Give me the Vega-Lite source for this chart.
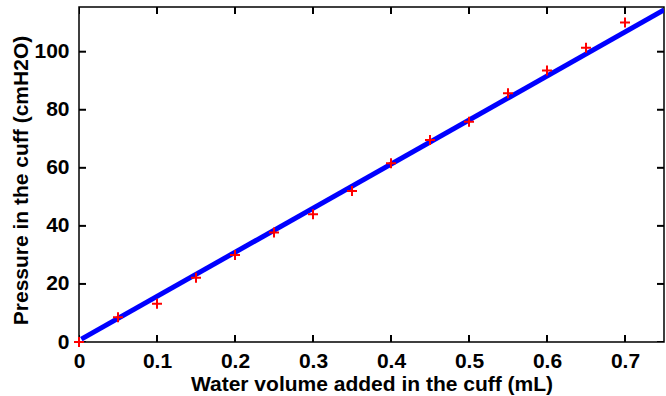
{
  "$schema": "https://vega.github.io/schema/vega-lite/v6.json",
  "width": 585,
  "height": 335,
  "autosize": {"type": "none"},
  "padding": {"left": 79, "top": 7, "right": 2, "bottom": 54},
  "background": "white",
  "config": {
    "view": {"stroke": "#000", "strokeWidth": 1.5},
    "font": "Liberation Sans",
    "axis": {
      "grid": false,
      "domain": false,
      "labelFont": "Liberation Sans",
      "labelFontWeight": "bold",
      "labelFontSize": 21,
      "labelColor": "#000",
      "titleFont": "Liberation Sans",
      "titleFontWeight": "bold",
      "titleFontSize": 21,
      "titleColor": "#000"
    }
  },
  "datasets": {
    "measured": [
      {"volume": 0.0, "pressure": 0.0},
      {"volume": 0.05, "pressure": 8.5},
      {"volume": 0.1, "pressure": 13.2},
      {"volume": 0.15, "pressure": 22.1},
      {"volume": 0.2, "pressure": 30.0},
      {"volume": 0.25, "pressure": 37.7},
      {"volume": 0.3, "pressure": 44.0},
      {"volume": 0.35, "pressure": 52.0},
      {"volume": 0.4, "pressure": 61.6},
      {"volume": 0.45, "pressure": 69.6},
      {"volume": 0.5, "pressure": 75.9},
      {"volume": 0.55, "pressure": 85.7},
      {"volume": 0.6, "pressure": 93.5},
      {"volume": 0.65, "pressure": 101.4},
      {"volume": 0.7, "pressure": 110.1}
    ],
    "fit": [
      {"volume": 0.003, "pressure": 1.0},
      {"volume": 0.75, "pressure": 114.4}
    ],
    "xticks": [
      {"volume": 0}, {"volume": 0.1}, {"volume": 0.2}, {"volume": 0.3},
      {"volume": 0.4}, {"volume": 0.5}, {"volume": 0.6}, {"volume": 0.7}
    ],
    "yticks": [
      {"pressure": 0}, {"pressure": 20}, {"pressure": 40},
      {"pressure": 60}, {"pressure": 80}, {"pressure": 100}
    ]
  },
  "layer": [
    {
      "data": {"name": "fit"},
      "mark": {"type": "line", "color": "#0000ff", "strokeWidth": 5, "clip": true},
      "encoding": {
        "x": {"field": "volume", "type": "quantitative", "scale": {"domain": [0, 0.75], "nice": false, "zero": false}, "axis": null},
        "y": {"field": "pressure", "type": "quantitative", "scale": {"domain": [0, 115.4], "nice": false, "zero": false}, "axis": null}
      }
    },
    {
      "data": {"name": "xticks"},
      "mark": {"type": "tick", "orient": "vertical", "color": "#000", "opacity": 1, "thickness": 2, "size": 14, "clip": true},
      "encoding": {
        "x": {"field": "volume", "type": "quantitative", "scale": {"domain": [0, 0.75], "nice": false, "zero": false}, "axis": null},
        "y": {"datum": 0, "type": "quantitative", "axis": null}
      }
    },
    {
      "data": {"name": "xticks"},
      "mark": {"type": "tick", "orient": "vertical", "color": "#000", "opacity": 1, "thickness": 2, "size": 14, "clip": true},
      "encoding": {
        "x": {"field": "volume", "type": "quantitative", "scale": {"domain": [0, 0.75], "nice": false, "zero": false}, "axis": null},
        "y": {"datum": 115.4, "type": "quantitative", "axis": null}
      }
    },
    {
      "data": {"name": "yticks"},
      "mark": {"type": "tick", "orient": "horizontal", "color": "#000", "opacity": 1, "thickness": 2, "size": 14, "clip": true},
      "encoding": {
        "y": {"field": "pressure", "type": "quantitative", "scale": {"domain": [0, 115.4], "nice": false, "zero": false}, "axis": null},
        "x": {"datum": 0, "type": "quantitative", "axis": null}
      }
    },
    {
      "data": {"name": "yticks"},
      "mark": {"type": "tick", "orient": "horizontal", "color": "#000", "opacity": 1, "thickness": 2, "size": 14, "clip": true},
      "encoding": {
        "y": {"field": "pressure", "type": "quantitative", "scale": {"domain": [0, 115.4], "nice": false, "zero": false}, "axis": null},
        "x": {"datum": 0.75, "type": "quantitative", "axis": null}
      }
    },
    {
      "data": {"name": "measured"},
      "mark": {"type": "point", "shape": "M-1,0L1,0M0,-1L0,1", "size": 100, "filled": false, "stroke": "#ff0000", "strokeWidth": 2, "opacity": 1, "clip": false},
      "encoding": {
        "x": {
          "field": "volume", "type": "quantitative",
          "scale": {"domain": [0, 0.75], "nice": false, "zero": false},
          "axis": {"orient": "bottom", "title": "Water volume added in the cuff (mL)", "format": "~g", "ticks": false, "values": [0, 0.1, 0.2, 0.3, 0.4, 0.5, 0.6, 0.7], "labelPadding": 8, "titlePadding": 2, "labelFlush": false}
        },
        "y": {
          "field": "pressure", "type": "quantitative",
          "scale": {"domain": [0, 115.4], "nice": false, "zero": false},
          "axis": {"orient": "left", "title": "Pressure in the cuff (cmH2O)", "titleY": 173, "ticks": false, "values": [0, 20, 40, 60, 80, 100], "labelPadding": 10, "titlePadding": 2, "labelFlush": false}
        }
      }
    }
  ],
  "resolve": {"axis": {"x": "independent", "y": "independent"}}
}
